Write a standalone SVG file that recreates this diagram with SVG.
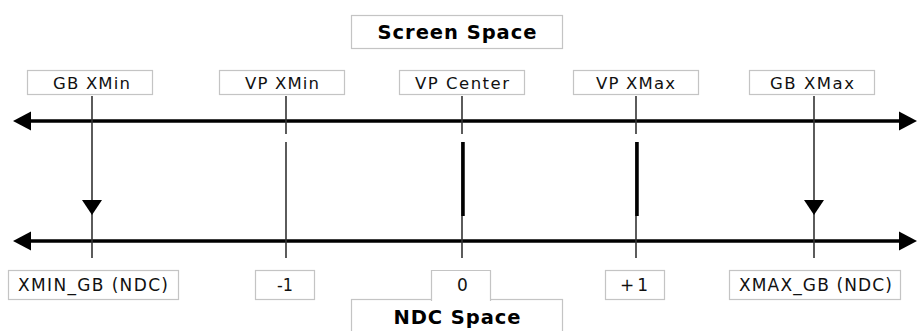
<svg xmlns="http://www.w3.org/2000/svg" xmlns:xlink="http://www.w3.org/1999/xlink" width="917" height="331" viewBox="0 0 917 331">
<style>
.box{fill:#fff;stroke:#c4c4c4;stroke-width:1.2}
.lbl{font-family:"DejaVu Sans",Verdana,sans-serif;font-size:16.5px;fill:#111;text-anchor:middle}
.lbl2{font-family:"DejaVu Sans",Verdana,sans-serif;font-size:17px;fill:#111;text-anchor:middle}
.ttl{font-family:"DejaVu Sans",Verdana,sans-serif;font-size:19.5px;font-weight:bold;fill:#000;text-anchor:middle}
.axis{stroke:#000;stroke-width:3.5;fill:none}
.thin{stroke:#333;stroke-width:1.6;fill:none}
.thick{stroke:#000;stroke-width:3.5;fill:none}
</style>
<defs>
<marker id="ah" markerUnits="userSpaceOnUse" markerWidth="20" markerHeight="20" viewBox="0 0 20 20" refX="11" refY="10" orient="auto-start-reverse">
<path d="M0,0.5 L18,10 L0,19.5 Z" fill="#000"/>
</marker>
<path id="down" d="M-10,0 L10,0 L0,15 Z" fill="#000"/>
</defs>
<rect width="917" height="331" fill="#fff"/>

<g id="connectors">
<line class="axis" x1="20" y1="121" x2="910" y2="121" marker-start="url(#ah)" marker-end="url(#ah)"/>
<line class="axis" x1="20" y1="241" x2="910" y2="241" marker-start="url(#ah)" marker-end="url(#ah)"/>
<line class="thin" x1="92" y1="96" x2="92" y2="258"/>
<use xlink:href="#down" x="92" y="200"/>
<line class="thin" x1="814" y1="96" x2="814" y2="258"/>
<use xlink:href="#down" x="814" y="200"/>
<line class="thin" x1="286" y1="96" x2="286" y2="134"/>
<line class="thin" x1="286" y1="142" x2="286" y2="258"/>
<line class="thin" x1="462" y1="96" x2="462" y2="134"/>
<line class="thin" x1="462" y1="142" x2="462" y2="258"/>
<line class="thick" x1="463" y1="142" x2="463" y2="216"/>
<line class="thin" x1="636" y1="96" x2="636" y2="134"/>
<line class="thin" x1="636" y1="142" x2="636" y2="258"/>
<line class="thick" x1="637" y1="142" x2="637" y2="216"/>
</g>

<g id="screen-space">
<rect class="box" x="351.5" y="15.5" width="211" height="33"/>
<text class="ttl" x="457" y="39" textLength="159" lengthAdjust="spacing">Screen Space</text>
</g>
<g id="gb-xmin">
<rect class="box" x="27.5" y="70.5" width="125" height="24"/>
<text class="lbl" x="91.5" y="89" textLength="77" lengthAdjust="spacing">GB XMin</text>
</g>
<g id="vp-xmin">
<rect class="box" x="219.5" y="70.5" width="125" height="24"/>
<text class="lbl" x="282" y="89" textLength="74" lengthAdjust="spacing">VP XMin</text>
</g>
<g id="vp-center">
<rect class="box" x="399.5" y="70.5" width="125" height="24"/>
<text class="lbl" x="462" y="89" textLength="94" lengthAdjust="spacing">VP Center</text>
</g>
<g id="vp-xmax">
<rect class="box" x="573.5" y="70.5" width="125" height="24"/>
<text class="lbl" x="635.5" y="89" textLength="79" lengthAdjust="spacing">VP XMax</text>
</g>
<g id="gb-xmax">
<rect class="box" x="749.5" y="70.5" width="125" height="24"/>
<text class="lbl" x="812" y="89" textLength="84" lengthAdjust="spacing">GB XMax</text>
</g>

<g id="xmin-gb">
<rect class="box" x="8.5" y="270.5" width="170" height="29"/>
<text class="lbl2" x="93" y="290.5" textLength="150" lengthAdjust="spacing">XMIN_GB (NDC)</text>
</g>
<g id="minus-one">
<rect class="box" x="255.5" y="270.5" width="59" height="29"/>
<text class="lbl2" x="285" y="290.5" textLength="16" lengthAdjust="spacingAndGlyphs">-1</text>
</g>
<g id="ndc-space">
<rect class="box" x="351.5" y="299.5" width="211" height="40"/>
<text class="ttl" x="457" y="323.5" textLength="127" lengthAdjust="spacing">NDC Space</text>
</g>
<g id="zero">
<path class="box" d="M431.5,301 V270.5 H490.5 V301"/>
<text class="lbl2" x="462.5" y="290.5">0</text>
</g>
<g id="plus-one">
<rect class="box" x="605.5" y="270.5" width="59" height="29"/>
<text class="lbl2" x="634" y="290.5" textLength="28" lengthAdjust="spacing">+1</text>
</g>
<g id="xmax-gb">
<rect class="box" x="729.5" y="270.5" width="171" height="29"/>
<text class="lbl2" x="815.5" y="290.5" textLength="153" lengthAdjust="spacing">XMAX_GB (NDC)</text>
</g>
</svg>
